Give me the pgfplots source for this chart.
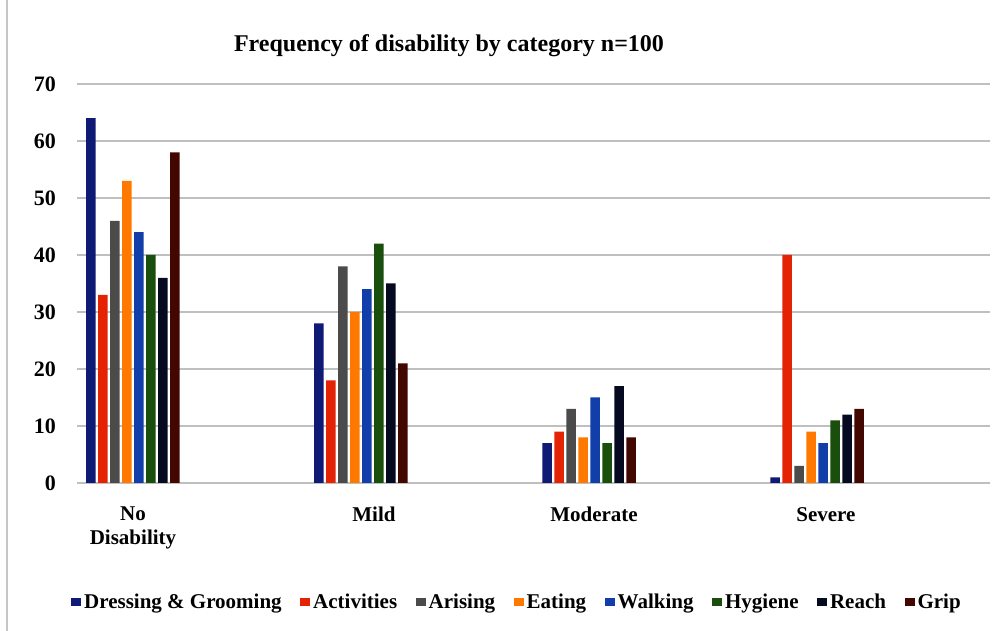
\documentclass[border=0pt]{standalone}
\usepackage{fontspec}
\setmainfont{Liberation Serif}
\usepackage{pgfplots}
\pgfplotsset{compat=1.18}
\definecolor{cDress}{RGB}{14,26,115}
\definecolor{cAct}{RGB}{228,35,5}
\definecolor{cAris}{RGB}{75,75,75}
\definecolor{cEat}{RGB}{255,120,0}
\definecolor{cWalk}{RGB}{18,62,170}
\definecolor{cHyg}{RGB}{25,78,12}
\definecolor{cReach}{RGB}{6,10,32}
\definecolor{cGrip}{RGB}{66,8,0}
\begin{document}
\begin{tikzpicture}[x=1pt,y=1pt]
\useasboundingbox (0,0) rectangle (1005,631);
\fill[white] (0,0) rectangle (1005,631);
\draw[gray!45, line width=1.5pt] (7,0) -- (7,631);
\begin{axis}[
  at={(77pt,148pt)}, anchor=south west,
  scale only axis, width=913pt, height=399pt,
  xmin=-0.2456, xmax=3.7588, ymin=0, ymax=70,
  ybar=2.5pt, bar width=9.5pt,
  ytick={0,10,...,70},
  ymajorgrids, grid style={gray!50, line width=1.8pt},
  axis line style={draw=none},
  major tick length=0pt,
  xtick={0,1.057,2.022,3.039},
  xticklabels={{No\\Disability},Mild,Moderate,Severe},
  xticklabel style={align=center, anchor=north, inner sep=0pt, yshift=-24pt,
     font=\fontsize{21}{24}\selectfont\bfseries},
  yticklabel style={anchor=east, inner sep=0pt, xshift=-21pt,
     font=\fontsize{22}{24}\selectfont\bfseries},
  /pgf/number format/assume math mode=true,
  legend columns=8,
  legend style={draw=none, fill=none, inner sep=0pt,
     at={(-0.0066,-0.2982)}, anchor=west,
     font=\fontsize{21}{24}\selectfont\bfseries,
     nodes={inner sep=0pt},
     /tikz/every odd column/.append style={column sep=3pt},
     /tikz/every even column/.append style={column sep=18.5pt}},
  legend image code/.code={\fill[#1] (0pt,-4pt) rectangle (10pt,4pt);},
]
\addplot[fill=cDress, draw=none] coordinates {(0,64) (1,28) (2,7) (3,1)};
\addlegendentry{Dressing \& Grooming}
\addplot[fill=cAct, draw=none] coordinates {(0,33) (1,18) (2,9) (3,40)};
\addlegendentry{Activities}
\addplot[fill=cAris, draw=none] coordinates {(0,46) (1,38) (2,13) (3,3)};
\addlegendentry{Arising}
\addplot[fill=cEat, draw=none] coordinates {(0,53) (1,30) (2,8) (3,9)};
\addlegendentry{Eating}
\addplot[fill=cWalk, draw=none] coordinates {(0,44) (1,34) (2,15) (3,7)};
\addlegendentry{Walking}
\addplot[fill=cHyg, draw=none] coordinates {(0,40) (1,42) (2,7) (3,11)};
\addlegendentry{Hygiene}
\addplot[fill=cReach, draw=none] coordinates {(0,36) (1,35) (2,17) (3,12)};
\addlegendentry{Reach}
\addplot[fill=cGrip, draw=none] coordinates {(0,58) (1,21) (2,8) (3,13)};
\addlegendentry{Grip}
\end{axis}
\node[font=\fontsize{24}{28}\selectfont\bfseries] at (449,585) {Frequency of disability by category n=100};
\end{tikzpicture}
\end{document}
